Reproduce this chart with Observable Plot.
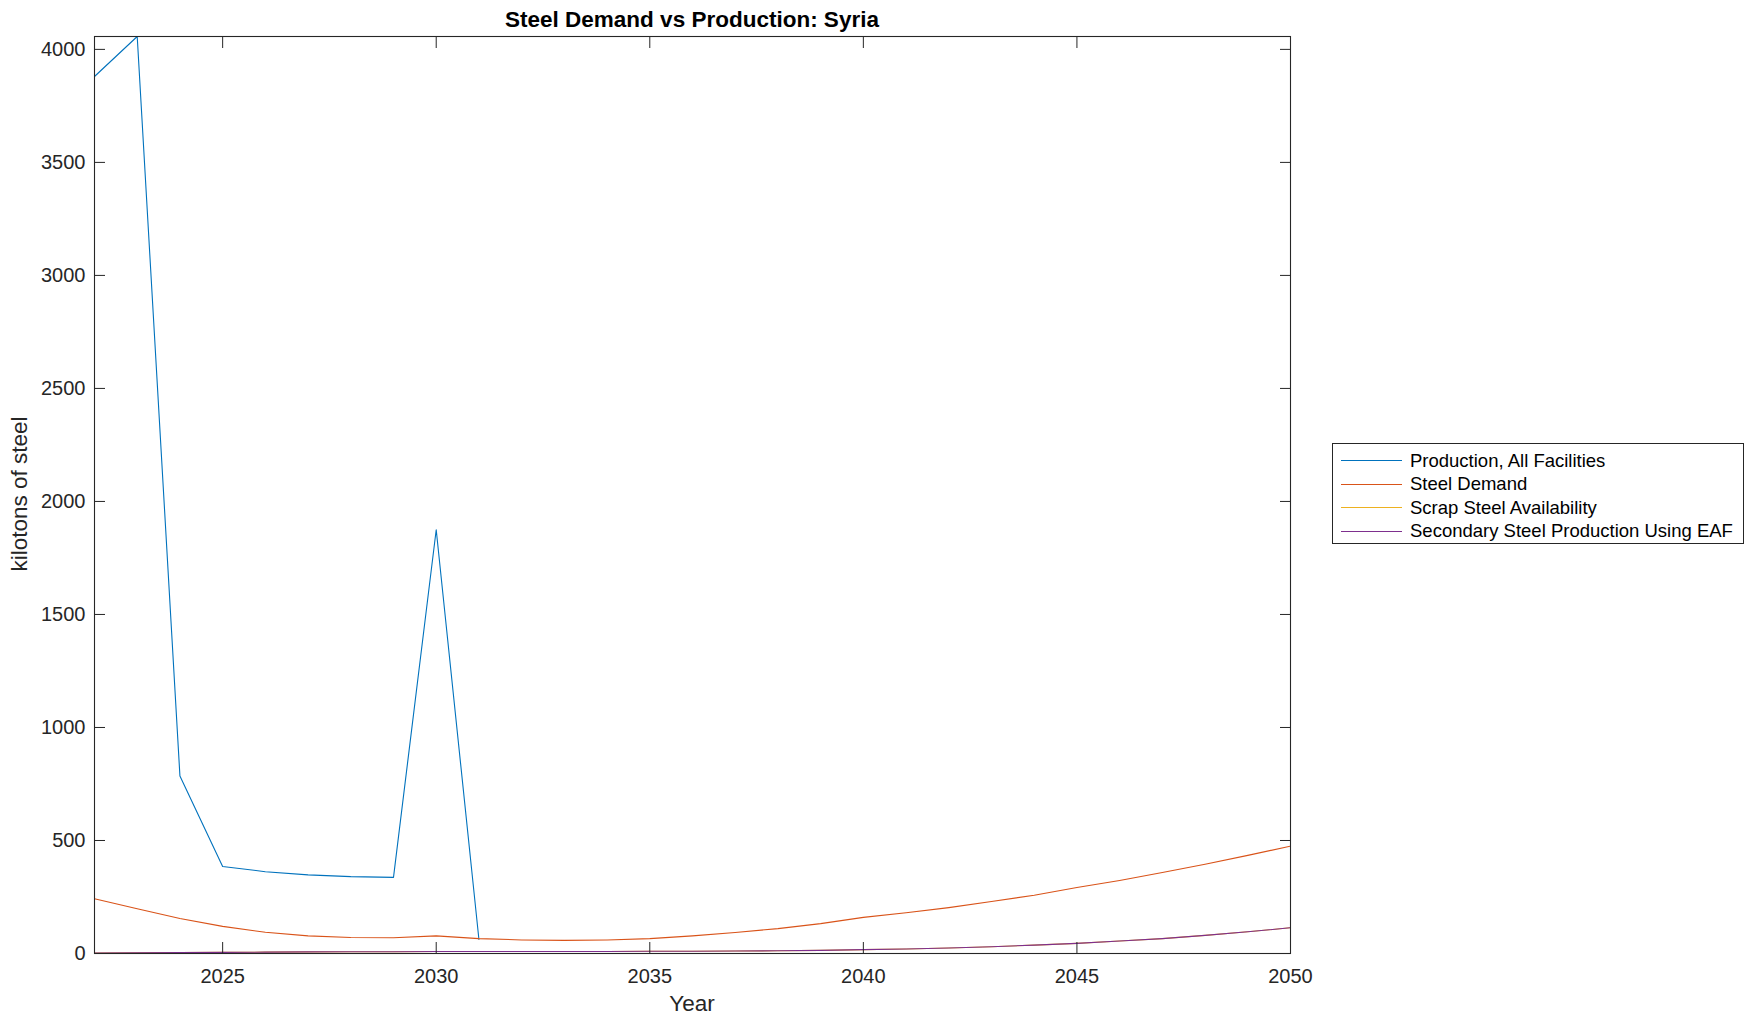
<!DOCTYPE html>
<html>
<head>
<meta charset="utf-8">
<script src="https://cdn.jsdelivr.net/npm/d3@7"></script>
<script src="https://cdn.jsdelivr.net/npm/@observablehq/plot@0.6"></script>
<style>
  html, body { margin: 0; padding: 0; background: #fff; }
  #wrap { position: relative; width: 1756px; height: 1021px; font-family: "Liberation Sans", Arial, Helvetica, sans-serif; }
  #title { position: absolute; left: 94px; width: 1196px; top: 7px; text-align: center; font-weight: bold; font-size: 22.5px; color: #000; line-height: 26px; }
  #xlabel { position: absolute; left: 94px; width: 1196px; top: 991px; text-align: center; font-size: 22.5px; color: #262626; line-height: 26px; }
  #ylabel { position: absolute; left: 20px; top: 494px; transform: translate(-50%, -50%) rotate(-90deg); white-space: nowrap; font-size: 22.5px; color: #262626; line-height: 26px; }
  #legend { position: absolute; left: 1332px; top: 443px; width: 412px; height: 101px; border: 1px solid #262626; box-sizing: border-box; background: #fff; padding-top: 5px; }
  .row { height: 23.5px; display: flex; align-items: center; font-size: 18.5px; color: #000; }
  .sw { width: 61px; height: 0; border-top: 1.2px solid; margin-left: 8px; margin-right: 8px; }
</style>
</head>
<body>
<div id="wrap">
  <div id="chart"></div>
  <div id="title">Steel Demand vs Production: Syria</div>
  <div id="xlabel">Year</div>
  <div id="ylabel">kilotons of steel</div>
  <div id="legend"></div>
</div>
<script>
const years = [2022,2023,2024,2025,2026,2027,2028,2029,2030,2031,2032,2033,2034,2035,2036,2037,2038,2039,2040,2041,2042,2043,2044,2045,2046,2047,2048,2049,2050];
const productionYears = [2022,2023,2024,2025,2026,2027,2028,2029,2030,2031];
const production = [3880,4057,785,385,362,348,340,337,1875,62];
const demand = [242,198,155,120,94,78,71,70,78,66,60,58,60,66,78,93,110,132,160,180,203,230,258,292,323,358,395,434,475];
const scrap = [2,3,4,5,6,7,8,8,9,9,9,9,9,10,10,11,12,14,17,20,24,30,37,45,55,66,80,96,114];
const secondary = [2,3,4,5,6,7,8,8,9,9,9,9,9,10,10,11,12,14,17,20,24,30,37,45,55,66,80,96,114];
const seriesNames = ["Production, All Facilities","Steel Demand","Scrap Steel Availability","Secondary Steel Production Using EAF"];
const seriesColors = ["#0072BD","#D95319","#EDB120","#7E2F8E"];
const xTicks = [2025,2030,2035,2040,2045,2050];
const yTicks = [0,500,1000,1500,2000,2500,3000,3500,4000];
const yMax = 4057;

const rows = [];
productionYears.forEach((y,i)=>rows.push({year:y, value:production[i], s:seriesNames[0]}));
years.forEach((y,i)=>rows.push({year:y, value:demand[i], s:seriesNames[1]}));
years.forEach((y,i)=>rows.push({year:y, value:scrap[i], s:seriesNames[2]}));
years.forEach((y,i)=>rows.push({year:y, value:secondary[i], s:seriesNames[3]}));

const chart = Plot.plot({
  width: 1756, height: 1021,
  marginLeft: 94, marginRight: 466, marginTop: 36, marginBottom: 68,
  style: {fontFamily: '"Liberation Sans", Arial, Helvetica, sans-serif', fontSize: "20px", color: "#262626", background: "#fff"},
  x: {domain: [2022, 2050]},
  y: {domain: [0, yMax]},
  color: {domain: seriesNames, range: seriesColors},
  marks: [
    ...seriesNames.map((n,i) => Plot.line(rows.filter(d=>d.s===n), {x:"year", y:"value", stroke: seriesColors[i], strokeWidth: 1.1, clip: true})),
    Plot.frame({stroke: "#262626", strokeWidth: 1.1}),
    Plot.axisX(xTicks, {anchor: "bottom", tickSize: -11, tickPadding: 26, tickFormat: d=>String(d), label: null, fontSize: 20, stroke: "#262626", fill: "#262626"}),
    Plot.axisX(xTicks, {anchor: "top", tickSize: -11, tickFormat: null, text: null, label: null, stroke: "#262626"}),
    Plot.axisY(yTicks, {anchor: "left", tickSize: -11, tickPadding: 20, tickFormat: d=>String(d), label: null, fontSize: 20, stroke: "#262626", fill: "#262626"}),
    Plot.axisY(yTicks, {anchor: "right", tickSize: -11, tickFormat: null, text: null, label: null, stroke: "#262626"})
  ]
});
document.getElementById("chart").appendChild(chart);

const leg = document.getElementById("legend");
seriesNames.forEach((n,i)=>{
  const r = document.createElement("div"); r.className = "row";
  const s = document.createElement("div"); s.className = "sw"; s.style.borderTopColor = seriesColors[i];
  const t = document.createElement("span"); t.textContent = n;
  r.appendChild(s); r.appendChild(t); leg.appendChild(r);
});
</script>
</body>
</html>
